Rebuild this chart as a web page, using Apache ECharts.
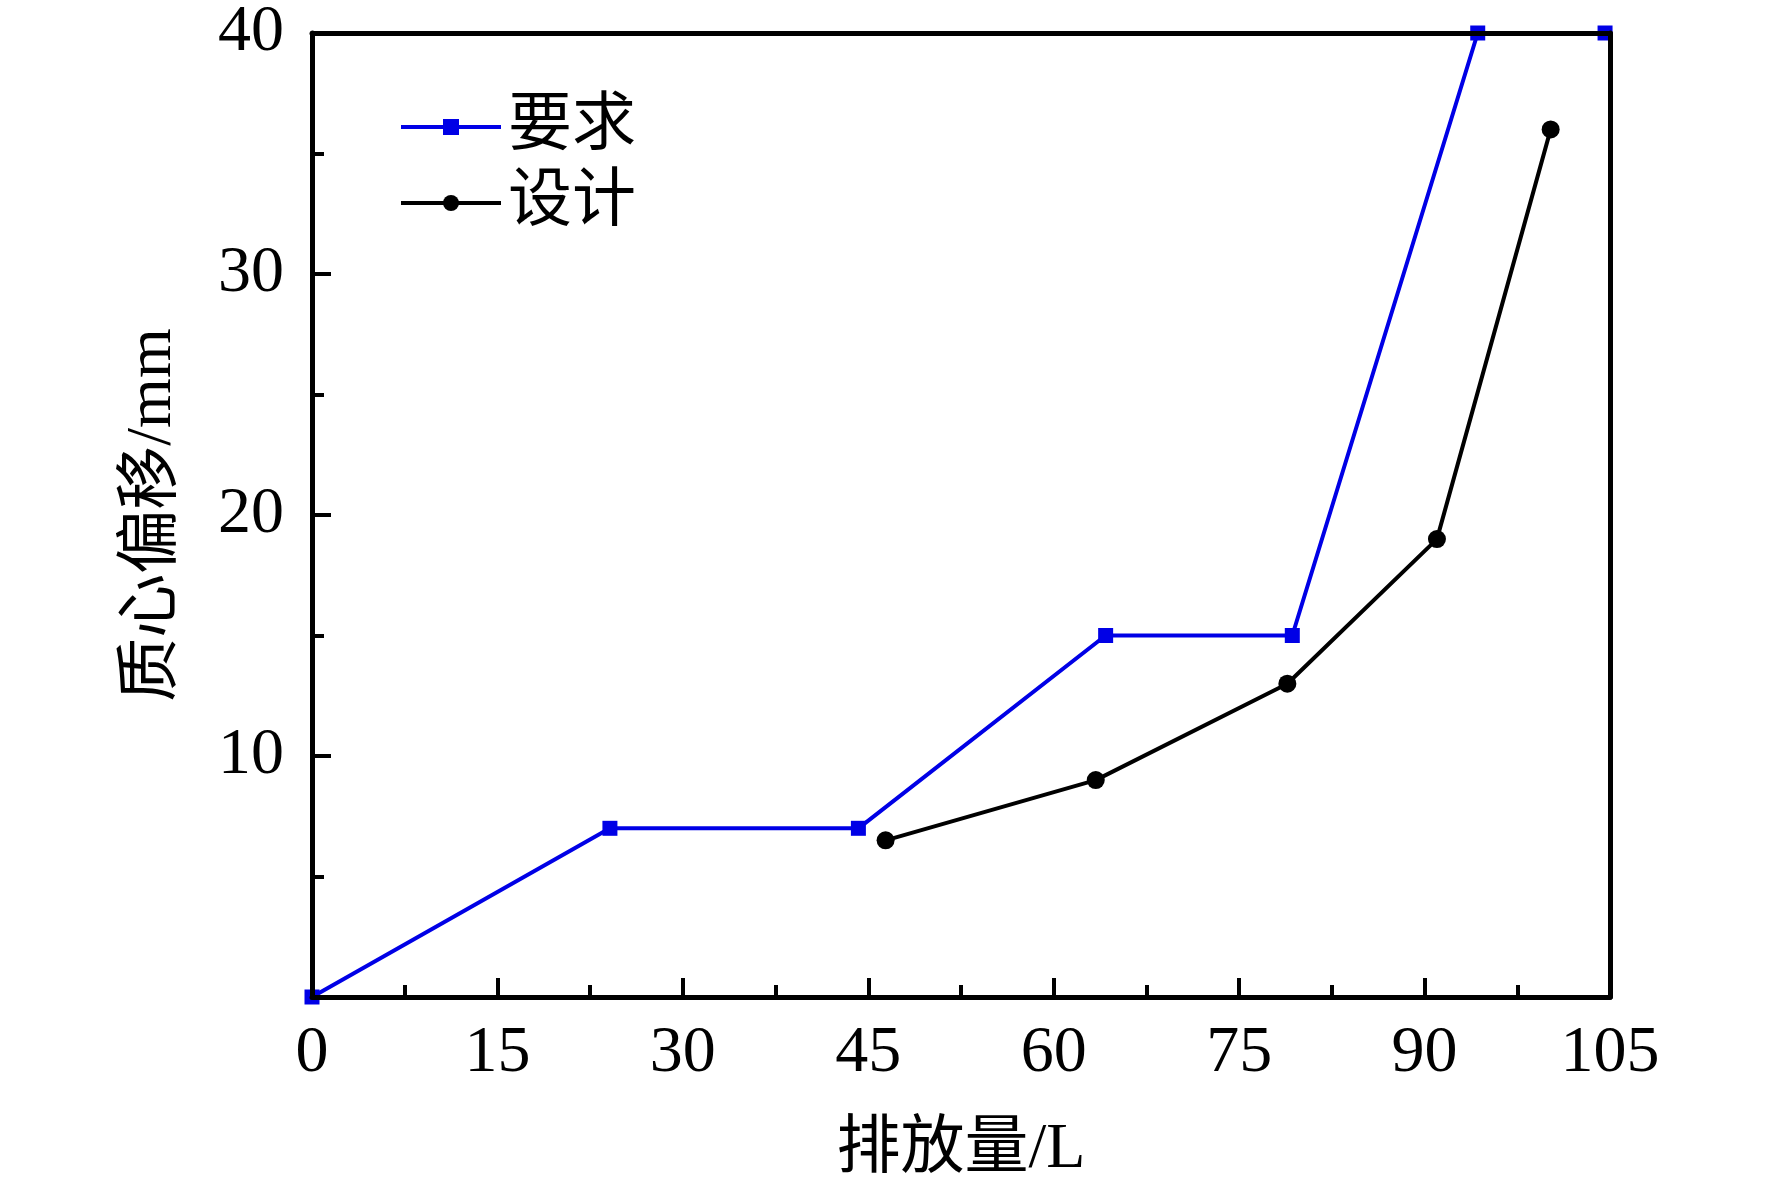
<!DOCTYPE html>
<html>
<head>
<meta charset="utf-8">
<script src="https://cdn.jsdelivr.net/npm/echarts@6/dist/echarts.min.js"></script>
<style>html,body{margin:0;padding:0;background:#fff}#c{width:1772px;height:1187px}</style>
</head>
<body>
<div id="c"></div>
<script>
const seriesNames = ['要求', '设计'];
const reqX = [0, 24.1, 44.2, 64.2, 79.3, 94.3, 104.6];
const reqY = [0, 7, 7, 15, 15, 40, 40];
const desX = [46.4, 63.4, 78.9, 91.0, 100.2];
const desY = [6.5, 9, 13, 19, 36];
const xTicks = [0, 15, 30, 45, 60, 75, 90, 105];
const yTicks = [10, 20, 30, 40];

const FONT = '"Liberation Serif", "Times New Roman", "Noto Sans CJK SC", serif';
const chart = echarts.init(document.getElementById('c'), null, {renderer: 'canvas'});
const zip = (xs, ys) => xs.map((x, i) => [x, ys[i]]);

const boxAxis = {
  show: true,
  axisLine: {show: true, onZero: false, lineStyle: {color: '#000', width: 5}},
  axisTick: {show: false},
  axisLabel: {show: false},
  splitLine: {show: false},
  z: 10
};

chart.setOption({
  backgroundColor: '#ffffff',
  animation: false,
  grid: {left: 312, right: 162, top: 33, bottom: 188, containLabel: false},
  legend: {
    orient: 'vertical',
    left: 394,
    top: 90,
    itemWidth: 100,
    itemHeight: 20,
    itemGap: 12,
    lineStyle: {width: 4},
    textStyle: {fontFamily: FONT, fontSize: 64, color: '#000', padding: [0, 0, 0, 2]},
    data: seriesNames
  },
  xAxis: [{
    type: 'value',
    min: 0, max: 105, interval: 15,
    name: '排放量/L',
    nameLocation: 'middle',
    nameGap: 121,
    nameTextStyle: {fontFamily: FONT, fontSize: 64, color: '#000'},
    axisLine: {show: true, onZero: false, lineStyle: {color: '#000', width: 5}},
    axisTick: {show: true, inside: true, length: 19, lineStyle: {color: '#000', width: 4}},
    minorTick: {show: true, splitNumber: 2, length: 12, lineStyle: {color: '#000', width: 4}},
    axisLabel: {fontFamily: FONT, fontSize: 66, color: '#000', margin: 24,
      formatter: v => xTicks.includes(v) ? String(v) : ''},
    splitLine: {show: false},
    z: 10
  }, Object.assign({type: 'value', position: 'top', min: 0, max: 105}, boxAxis)],
  yAxis: [{
    type: 'value',
    min: 0, max: 40, interval: 10,
    name: '质心偏移/mm',
    nameLocation: 'middle',
    nameGap: 127,
    nameTextStyle: {fontFamily: FONT, fontSize: 64, color: '#000'},
    axisLine: {show: true, onZero: false, lineStyle: {color: '#000', width: 5}},
    axisTick: {show: true, inside: true, length: 19, lineStyle: {color: '#000', width: 4}},
    minorTick: {show: true, splitNumber: 2, length: 12, lineStyle: {color: '#000', width: 4}},
    axisLabel: {fontFamily: FONT, fontSize: 66, color: '#000', margin: 28,
      formatter: v => yTicks.includes(v) ? String(v) : ''},
    splitLine: {show: false},
    z: 10
  }, Object.assign({type: 'value', position: 'right', min: 0, max: 40}, boxAxis)],
  series: [{
    name: seriesNames[0],
    type: 'line',
    data: zip(reqX, reqY),
    symbol: 'rect',
    symbolSize: 15,
    lineStyle: {color: '#0000e6', width: 4},
    itemStyle: {color: '#0000e6'},
    clip: false,
    z: 3
  }, {
    name: seriesNames[1],
    type: 'line',
    data: zip(desX, desY),
    symbol: 'circle',
    symbolSize: 18,
    lineStyle: {color: '#000', width: 4},
    itemStyle: {color: '#000'},
    clip: false,
    z: 4
  }]
});
</script>
</body>
</html>
